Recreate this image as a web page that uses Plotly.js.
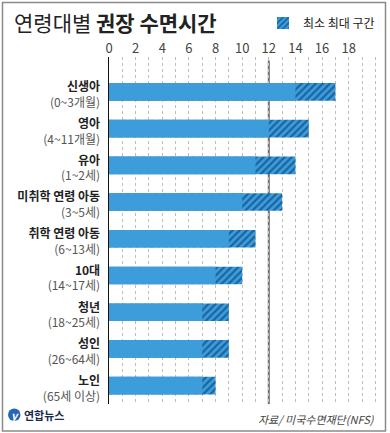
<!DOCTYPE html>
<html><head><meta charset="utf-8">
<script src="https://cdn.plot.ly/plotly-3.0.1.min.js"></script>
<style>html,body{margin:0;padding:0;background:#fff}#chart{width:390px;height:433px}</style>
</head><body><div id="chart"></div>
<script>
const groups = ['신생아','영아','유아','미취학 연령 아동','취학 연령 아동','10대','청년','성인','노인'];
const ageRanges = ['(0~3개월)','(4~11개월)','(1~2세)','(3~5세)','(6~13세)','(14~17세)','(18~25세)','(26~64세)','(65세 이상)'];
const minHours = [14,12,11,10,9,8,7,7,7];
const maxHours = [17,15,14,13,11,10,9,9,8];
const xTicks = [0,2,4,6,8,10,12,14,16,18];
const legendLabel = '최소 최대 구간';
const refLine = 12;

const FONT = '"Noto Sans CJK KR", "Noto Sans", sans-serif';
const BLUE = '#3d9ddb';
const HATCH = '#1a64a0';

const tickText = groups.map((g, i) => `<b>${g}</b><br><span style="color:#555">${ageRanges[i]}</span>`);

const W = 390, H = 433, ML = 109, MR = 8, MT = 57, MB = 29;
const PW = W - ML - MR, PH = H - MT - MB;
const px2x = p => (p - ML) / PW;
const px2y = p => (H - MB - p) / PH;

const traces = [
  {
    type: 'bar', orientation: 'h', y: groups, x: maxHours,
    name: legendLabel, showlegend: true, width: 0.48,
    marker: { color: BLUE, line: { width: 0 },
      pattern: { shape: '/', fgcolor: HATCH, bgcolor: BLUE, size: 5, solidity: 0.45, fillmode: 'replace' } },
    hoverinfo: 'skip'
  },
  {
    type: 'bar', orientation: 'h', y: groups, x: minHours,
    showlegend: false, width: 0.48,
    marker: { color: BLUE, line: { width: 0 } },
    hoverinfo: 'skip'
  }
];

const layout = {
  width: W, height: H,
  margin: { l: ML, r: MR, t: MT, b: MB, pad: 0 },
  paper_bgcolor: '#fff', plot_bgcolor: '#fff',
  font: { family: FONT, color: '#222' },
  barmode: 'overlay',
  title: {
    text: '연령대별 <b>권장 수면시간</b>',
    font: { family: FONT, size: 21, color: '#222' },
    xref: 'container', x: 14 / W, xanchor: 'left',
    yref: 'container', y: (H - 24) / H, yanchor: 'middle'
  },
  showlegend: true,
  legend: {
    x: px2x(380), xanchor: 'right', y: px2y(23), yanchor: 'middle',
    font: { family: FONT, size: 12, color: '#222' },
    bgcolor: 'rgba(0,0,0,0)', itemwidth: 30, tracegroupgap: 0
  },
  xaxis: {
    side: 'top', range: [0, 20.5], tickvals: xTicks, ticktext: xTicks.map(String),
    ticks: '', showgrid: true, gridcolor: '#bdbdbd', griddash: 'dot', gridwidth: 1,
    minor: { dtick: 1, tick0: 0, showgrid: true, gridcolor: '#bdbdbd', griddash: 'dot', gridwidth: 1 },
    zeroline: false, showline: false,
    tickfont: { family: FONT, size: 13, color: '#444' }, fixedrange: true
  },
  yaxis: {
    type: 'category', range: [8.5, -0.95],
    tickvals: groups, ticktext: tickText,
    ticks: '', showgrid: false, zeroline: false,
    showline: true, linecolor: '#111', linewidth: 1.5,
    ticklabelstandoff: 5, ticklabelshift: -3,
    tickfont: { family: FONT, size: 12, color: '#222' }, fixedrange: true
  },
  shapes: [
    { type: 'line', xref: 'x', yref: 'paper', x0: refLine, x1: refLine, y0: 0, y1: 0.99,
      line: { color: '#6e6e6e', width: 2 }, layer: 'below' },
    { type: 'rect', xref: 'paper', yref: 'paper', x0: px2x(2.5), x1: px2x(385.5), y0: px2y(431), y1: px2y(2.5),
      line: { color: '#8a8a8a', width: 1.5 }, fillcolor: 'rgba(0,0,0,0)' },
    { type: 'circle', xref: 'paper', yref: 'paper', x0: px2x(8), x1: px2x(20.5), y0: px2y(421), y1: px2y(408.5),
      line: { width: 0 }, fillcolor: '#2a64b8' }
  ],
  annotations: [
    { text: '시간', xref: 'x', x: -0.55, xanchor: 'right', yref: 'paper', y: px2y(48), yanchor: 'middle',
      showarrow: false, font: { family: FONT, size: 13, color: '#444' } },
    { text: '<i><b>y</b></i>', xref: 'paper', x: px2x(14.2), xanchor: 'center', yref: 'paper', y: px2y(414.5), yanchor: 'middle',
      showarrow: false, font: { family: FONT, size: 11, color: '#fff' } },
    { text: '<b>연합뉴스</b>', xref: 'paper', x: px2x(22), xanchor: 'left', yref: 'paper', y: px2y(415), yanchor: 'middle',
      showarrow: false, font: { family: FONT, size: 11, color: '#1c2a4a' } },
    { text: '<i>자료/ 미국수면재단(NFS)</i>', xref: 'paper', x: px2x(377), xanchor: 'right', yref: 'paper', y: px2y(419), yanchor: 'middle',
      showarrow: false, font: { family: FONT, size: 11, color: '#444' } }
  ]
};

Plotly.newPlot('chart', traces, layout, { displayModeBar: false, staticPlot: true });
</script></body></html>
